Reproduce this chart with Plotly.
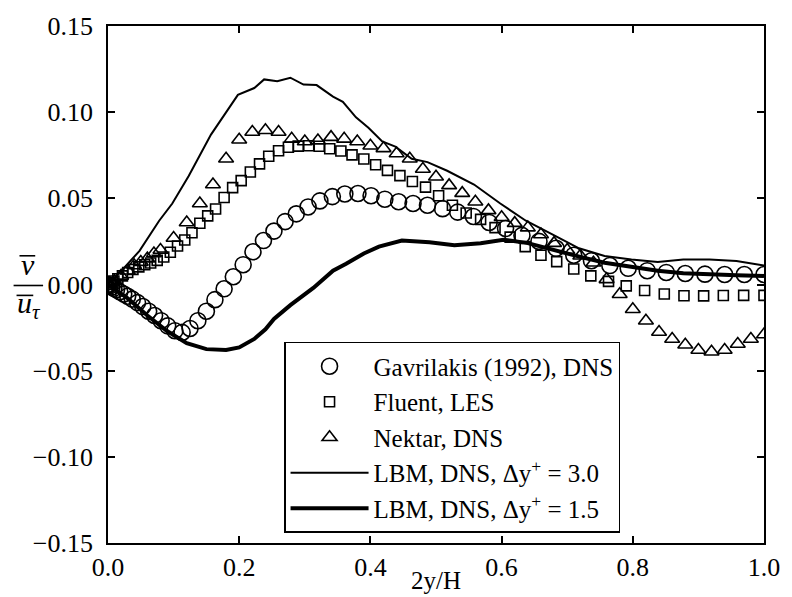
import plotly.graph_objects as go

# ---------------- data ----------------
gav_x = [0, 0.001, 0.003, 0.006, 0.009, 0.013, 0.018, 0.024, 0.03, 0.037, 0.045, 0.053, 0.062, 0.071,
         0.081, 0.091, 0.102, 0.113, 0.125, 0.137, 0.15, 0.163, 0.177, 0.191, 0.206, 0.221, 0.237,
         0.253, 0.27, 0.287, 0.305, 0.323, 0.342, 0.361, 0.381, 0.401, 0.422, 0.443, 0.465, 0.487,
         0.51, 0.533, 0.557, 0.581, 0.606, 0.631, 0.657, 0.683, 0.71, 0.737, 0.765, 0.793, 0.822,
         0.851, 0.88, 0.91, 0.94, 0.97, 1.0]
gav_y = [0, -0.0003, -0.0008, -0.0015, -0.0022, -0.003, -0.0042, -0.0055, -0.0068, -0.0085, -0.0105,
         -0.0128, -0.0155, -0.018, -0.021, -0.024, -0.0268, -0.0278, -0.0255, -0.021, -0.0155, -0.0088,
         -0.0025, 0.0045, 0.0115, 0.019, 0.0255, 0.031, 0.0365, 0.041, 0.045, 0.0485, 0.051, 0.0525,
         0.0528, 0.0515, 0.0495, 0.048, 0.047, 0.046, 0.044, 0.042, 0.0395, 0.036, 0.0325, 0.0285,
         0.025, 0.021, 0.017, 0.0138, 0.011, 0.0094, 0.008, 0.007, 0.0064, 0.006, 0.0058, 0.0058, 0.0058]

flu_x = [0, 0.004, 0.009, 0.015, 0.022, 0.03, 0.038, 0.047, 0.056, 0.065, 0.075, 0.085, 0.095, 0.106,
         0.117, 0.128, 0.14, 0.152, 0.164, 0.177, 0.19, 0.203, 0.217, 0.231, 0.245, 0.26, 0.275, 0.29,
         0.306, 0.322, 0.338, 0.355, 0.372, 0.39, 0.408, 0.426, 0.445, 0.464, 0.484, 0.504, 0.525,
         0.546, 0.568, 0.59, 0.613, 0.636, 0.66, 0.684, 0.71, 0.736, 0.763, 0.79, 0.818, 0.848, 0.878,
         0.908, 0.938, 0.969, 1.0]
flu_y = [0, 0.001, 0.002, 0.0033, 0.005, 0.007, 0.0088, 0.0102, 0.0115, 0.0125, 0.014, 0.016, 0.0187,
         0.0223, 0.0258, 0.030, 0.0355, 0.0398, 0.0438, 0.0505, 0.0562, 0.0603, 0.0653, 0.070, 0.0744,
         0.0776, 0.0796, 0.0803, 0.0805, 0.0802, 0.0788, 0.0775, 0.0752, 0.0728, 0.0695, 0.0662,
         0.0632, 0.0598, 0.0565, 0.0515, 0.046, 0.0415, 0.0378, 0.033, 0.0275, 0.022, 0.017, 0.0133,
         0.009, 0.005, 0.0018, -0.0008, -0.0035, -0.0055, -0.0065, -0.0066, -0.0064, -0.0063, -0.0063]

nek_x = [0, 0.01, 0.02, 0.03, 0.04, 0.05, 0.06, 0.07, 0.08, 0.1, 0.12, 0.14, 0.16, 0.18, 0.2, 0.22,
         0.24, 0.26, 0.28, 0.3, 0.32, 0.34, 0.36, 0.38, 0.4, 0.42, 0.44, 0.46, 0.48, 0.5, 0.52, 0.54,
         0.56, 0.58, 0.6, 0.62, 0.64, 0.66, 0.68, 0.7, 0.72, 0.74, 0.76, 0.78, 0.8, 0.82, 0.84, 0.86,
         0.88, 0.9, 0.92, 0.94, 0.96, 0.98, 1.0]
nek_y = [0, 0.002, 0.005, 0.008, 0.011, 0.013, 0.015, 0.018, 0.020, 0.027, 0.036, 0.047, 0.058, 0.073,
         0.084, 0.0885, 0.0895, 0.0885, 0.0845, 0.083, 0.0835, 0.0855, 0.0845, 0.083, 0.0805, 0.079,
         0.076, 0.073, 0.067, 0.0625, 0.0575, 0.053, 0.048, 0.043, 0.039, 0.0356, 0.033, 0.029, 0.024,
         0.020, 0.0167, 0.0126, 0.003, -0.0057, -0.0144, -0.021, -0.0276, -0.0316, -0.035, -0.038,
         -0.039, -0.038, -0.0345, -0.0316, -0.029]

lbm3_x = [0, 0.022, 0.048, 0.078, 0.098, 0.123, 0.157, 0.198, 0.223, 0.238, 0.258, 0.278, 0.298, 0.318,
          0.343, 0.358, 0.378, 0.397, 0.418, 0.438, 0.463, 0.487, 0.517, 0.558, 0.598, 0.637, 0.678,
          0.718, 0.757, 0.798, 0.838, 0.877, 0.917, 0.958, 1.0]
lbm3_y = [0, 0.0086, 0.0195, 0.037, 0.047, 0.063, 0.087, 0.110, 0.114, 0.119, 0.118, 0.120, 0.116,
          0.1157, 0.109, 0.106, 0.097, 0.091, 0.083, 0.080, 0.073, 0.071, 0.066, 0.058, 0.047, 0.037,
          0.029, 0.021, 0.0165, 0.0145, 0.013, 0.0145, 0.0145, 0.0137, 0.011]

lbm15_x = [0, 0.03, 0.06, 0.09, 0.12, 0.15, 0.18, 0.2, 0.223, 0.24, 0.253, 0.278, 0.313, 0.343, 0.363,
           0.39, 0.413, 0.448, 0.49, 0.528, 0.568, 0.603, 0.64, 0.678, 0.72, 0.757, 0.8, 0.838, 0.877,
           0.917, 0.958, 1.0]
lbm15_y = [0, -0.008, -0.018, -0.027, -0.034, -0.0375, -0.038, -0.0365, -0.0316, -0.026, -0.020,
           -0.012, -0.002, 0.008, 0.012, 0.018, 0.022, 0.0255, 0.0245, 0.0228, 0.024, 0.026, 0.024,
           0.020, 0.016, 0.0126, 0.010, 0.008, 0.0065, 0.0058, 0.0054, 0.005]

names = ["Gavrilakis (1992), DNS", "Fluent, LES", "Nektar, DNS",
         "LBM, DNS, Δy<sup>+</sup> = 3.0", "LBM, DNS, Δy<sup>+</sup> = 1.5"]

x_ticks = [0.0, 0.2, 0.4, 0.6, 0.8, 1.0]
y_ticks = [-0.15, -0.10, -0.05, 0.0, 0.05, 0.10, 0.15]

# ---------------- figure ----------------
FONT = "Liberation Serif"
fig = go.Figure()

fig.add_trace(go.Scatter(x=gav_x, y=gav_y, mode="markers", name=names[0],
                         marker=dict(symbol="circle-open", size=16, color="black",
                                     line=dict(width=1.6, color="black"))))
fig.add_trace(go.Scatter(x=flu_x, y=flu_y, mode="markers", name=names[1],
                         marker=dict(symbol="square-open", size=10, color="black",
                                     line=dict(width=1.6, color="black"))))
fig.add_trace(go.Scatter(x=nek_x, y=nek_y, mode="markers", name=names[2],
                         marker=dict(symbol="triangle-up-open", size=13, color="black",
                                     line=dict(width=1.6, color="black"))))
fig.add_trace(go.Scatter(x=lbm3_x, y=lbm3_y, mode="lines", name=names[3],
                         line=dict(color="black", width=2)))
fig.add_trace(go.Scatter(x=lbm15_x, y=lbm15_y, mode="lines", name=names[4],
                         line=dict(color="black", width=4)))

axis_common = dict(showgrid=False, zeroline=False, showline=True, linecolor="black", linewidth=1.8,
                   mirror="ticks", ticks="inside", ticklen=7, tickwidth=1.5, tickcolor="black",
                   tickfont=dict(family=FONT, size=26, color="black"))

fig.update_xaxes(range=[0, 1], tickvals=x_ticks, tickformat=".1f", ticklabelstandoff=0, **axis_common)
fig.update_yaxes(range=[-0.15, 0.15], tickvals=y_ticks, tickformat=".2f", ticklabelstandoff=8,
                 **axis_common)

L, R, T, B = 108, 17, 21, 54
W, H = 792, 597
pw, ph = W - L - R, H - T - B


def px2paper(px, py):
    return (px - L) / pw, (H - B - py) / ph


annotations = []
# x-axis title
ax_, ay_ = px2paper(441, 581)
annotations.append(dict(x=ax_, y=ay_, xref="paper", yref="paper", text="2y/H", showarrow=False,
                        xanchor="center", yanchor="middle",
                        font=dict(family=FONT, size=25, color="black")))
# y-axis label as a fraction
vx, vy = px2paper(27, 262)
annotations.append(dict(x=vx, y=vy, xref="paper", yref="paper", text="<i>v</i>", showarrow=False,
                        xanchor="center", yanchor="middle",
                        font=dict(family=FONT, size=30, color="black")))
ux, uy = px2paper(28, 303)
annotations.append(dict(x=ux, y=uy, xref="paper", yref="paper", text="<i>u</i><sub><i>τ</i></sub>",
                        showarrow=False, xanchor="center", yanchor="middle",
                        font=dict(family=FONT, size=30, color="black")))

shapes = []
for (x0, x1, yy, wdt) in [(18, 34, 253, 1.6), (12, 42, 283, 1.6), (15, 32, 293, 1.6)]:
    a0, b0 = px2paper(x0, yy)
    a1, _ = px2paper(x1, yy)
    shapes.append(dict(type="line", xref="paper", yref="paper", x0=a0, x1=a1, y0=b0, y1=b0,
                       line=dict(color="black", width=wdt)))

lx, ly = px2paper(287, 340)
fig.update_layout(
    width=W, height=H, margin=dict(l=L, r=R, t=T, b=B),
    paper_bgcolor="white", plot_bgcolor="white",
    font=dict(family=FONT, size=26, color="black"),
    showlegend=True,
    legend=dict(x=lx, y=ly, xanchor="left", yanchor="top", bgcolor="white",
                bordercolor="black", borderwidth=1.5, itemwidth=78,
                font=dict(family=FONT, size=25, color="black")),
    annotations=annotations, shapes=shapes,
)

fig.write_html("out.html")
